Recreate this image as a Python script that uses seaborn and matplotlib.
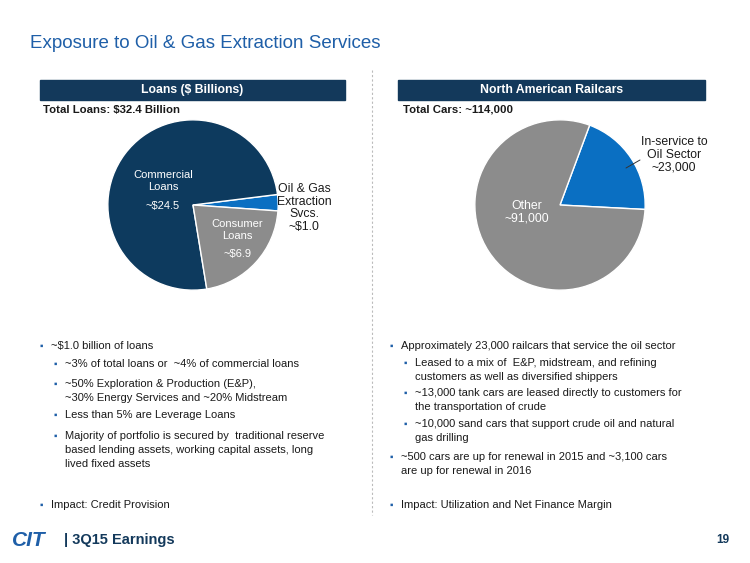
import matplotlib
matplotlib.use("Agg")
import matplotlib.pyplot as plt
from matplotlib.patches import Rectangle
import seaborn as sns

sns.set_theme(style="white")
plt.rcParams['font.family'] = ['Liberation Sans', 'DejaVu Sans']

loan_labels = ["Oil & Gas Extraction Svcs.", "Commercial Loans", "Consumer Loans"]
loan_values = [1.0, 24.5, 6.9]
loan_colors = ["#0a6fc2", "#0d3a5e", "#8c8c8c"]
car_labels = ["In-service to Oil Sector", "Other"]
car_values = [23000, 91000]
car_colors = ["#0a6fc2", "#8c8c8c"]

W, H = 750, 563
fig = plt.figure(figsize=(7.5, 5.63), dpi=100)
def fx(x): return x / W
def fy(y): return 1 - y / H
def T(x, y, s, **kw):
    kw.setdefault("fontsize", 8.2)
    kw.setdefault("color", "#1a1a1a")
    fig.text(fx(x), fy(y), s, va="center", **kw)

NAVY = "#13395b"
T(30, 43, "Exposure to Oil & Gas Extraction Services", fontsize=13.5, color="#1f5fa8")

for x0, x1, s in [(40, 345, "Loans ($ Billions)"), (398, 705, "North American Railcars")]:
    fig.patches.append(Rectangle((fx(x0), fy(100)), fx(x1 - x0), 20 / H, transform=fig.transFigure,
                                 color=NAVY, zorder=0))
    T((x0 + x1) / 2, 90, s, ha="center", color="white", fontweight="bold", fontsize=8.8)
fig.add_artist(plt.Line2D([fx(372), fx(372)], [fy(70), fy(515)], transform=fig.transFigure,
                          color="#bbbbbb", lw=0.8, ls=(0, (2, 2))))

T(43, 110, "Total Loans: $32.4 Billion", fontweight="bold", fontsize=8.2)
T(403, 110, "Total Cars: ~114,000", fontweight="bold", fontsize=8.2)

r = 86
for cx, vals, cols, st in [(193, loan_values, loan_colors, -4), (560, car_values, car_colors, -3)]:
    ax = fig.add_axes([fx(cx - r), fy(205 + r), 2 * r / W, 2 * r / H])
    ax.pie(vals, colors=cols, startangle=st, counterclock=True, radius=1,
           wedgeprops=dict(edgecolor="white", linewidth=1))
    ax.set_xlim(-1.01, 1.01)
    ax.set_ylim(-1.01, 1.01)
    ax.set_aspect("equal")
    ax.axis("off")

T(163, 181, "Commercial\nLoans", ha="center", color="white", fontsize=8, linespacing=1.2)
T(163, 206, "~$24.5", ha="center", color="white", fontsize=8)
T(237, 230, "Consumer\nLoans", ha="center", color="white", fontsize=8, linespacing=1.2)
T(237, 254, "~$6.9", ha="center", color="white", fontsize=8)
T(304, 208, "Oil & Gas\nExtraction\nSvcs.\n~$1.0", ha="center", fontsize=8.8, linespacing=1.05)
T(527, 212, "Other\n~91,000", ha="center", color="white", fontsize=8.8, linespacing=1.1)
T(674, 155, "In-service to\nOil Sector\n~23,000", ha="center", fontsize=8.8, linespacing=1.1)
fig.add_artist(plt.Line2D([fx(626), fx(640)], [fy(168), fy(160)], transform=fig.transFigure,
                          color="#333333", lw=0.7))

left = [(0, 346, "~$1.0 billion of loans"), (1, 364, "~3% of total loans or  ~4% of commercial loans"),
        (1, 384, "~50% Exploration & Production (E&P),\n~30% Energy Services and ~20% Midstream"),
        (1, 415, "Less than 5% are Leverage Loans"),
        (1, 436, "Majority of portfolio is secured by  traditional reserve\nbased lending assets, working capital assets, long\nlived fixed assets"),
        (0, 505, "Impact: Credit Provision")]
right = [(0, 346, "Approximately 23,000 railcars that service the oil sector"),
         (1, 363, "Leased to a mix of  E&P, midstream, and refining\ncustomers as well as diversified shippers"),
         (1, 393, "~13,000 tank cars are leased directly to customers for\nthe transportation of crude"),
         (1, 424, "~10,000 sand cars that support crude oil and natural\ngas drilling"),
         (0, 457, "~500 cars are up for renewal in 2015 and ~3,100 cars\nare up for renewal in 2016"),
         (0, 505, "Impact: Utilization and Net Finance Margin")]
for base, items in [(40, left), (390, right)]:
    for lvl, y, s in items:
        bx = base + (14 if lvl else 0)
        fig.text(fx(bx), fy(y), "▪", fontsize=7, color="#1f5fa8", va="center")
        fig.text(fx(bx + 11), fy(y - 5), s, fontsize=8.0, color="#1a1a1a", va="top", linespacing=1.5)

T(12, 540, "CIT", fontsize=15, fontweight="bold", color="#1f5fa8", style="italic")
T(64, 540, "| 3Q15 Earnings", fontsize=10.5, fontweight="bold", color=NAVY)
T(716, 540, "19", fontsize=8.5, fontweight="bold", color=NAVY)

fig.savefig("out.png", dpi=100)
